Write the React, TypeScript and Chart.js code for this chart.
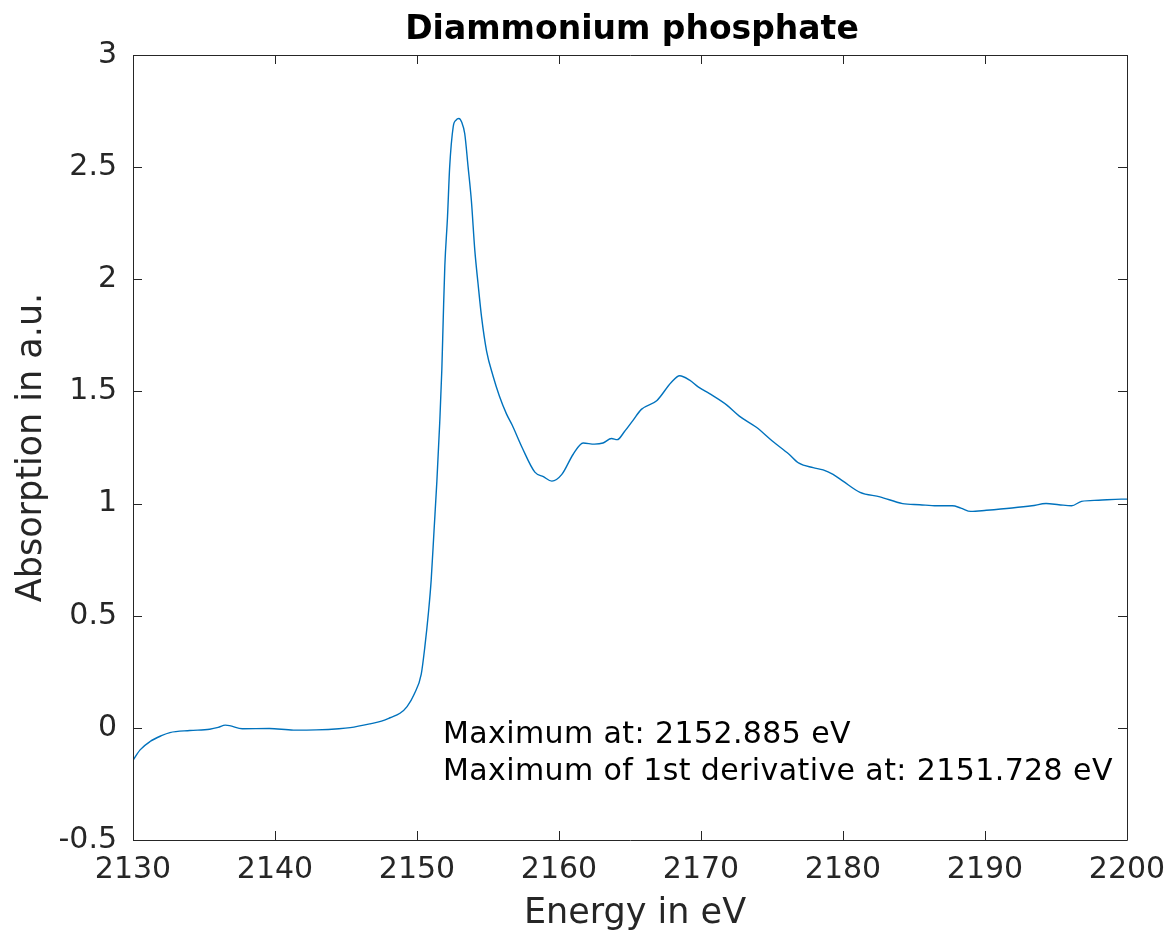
import React, { useEffect, useRef } from "react";
import { Chart, registerables } from "chart.js";

Chart.register(...registerables);

const energies: number[] = [
  2130.0, 2130.5, 2131.2, 2132.0, 2132.6, 2134.0, 2135.4, 2136.0, 2136.5, 2136.8,
  2137.7, 2139.6, 2141.3, 2142.9, 2144.5, 2145.3, 2146.7, 2147.5, 2148.1, 2148.8,
  2149.3, 2149.8, 2150.3, 2150.55, 2150.8, 2151.0, 2151.2, 2151.4, 2151.6, 2151.75,
  2151.85, 2151.96, 2152.15, 2152.3, 2152.55, 2152.75, 2152.95, 2153.15, 2153.36, 2153.6,
  2153.83, 2154.07, 2154.3, 2154.55, 2154.9, 2155.35, 2155.8, 2156.3, 2156.7, 2157.4,
  2158.3, 2158.9, 2159.5, 2160.2, 2161.0, 2161.7, 2162.5, 2163.1, 2163.7, 2164.1,
  2164.6, 2165.2, 2165.8, 2166.9, 2167.9, 2168.5, 2169.2, 2169.8, 2170.6, 2171.8,
  2172.7, 2173.9, 2175.0, 2176.2, 2176.9, 2177.9, 2178.6, 2179.3, 2180.0, 2181.2,
  2182.6, 2184.2, 2185.4, 2186.6, 2187.7, 2188.3, 2189.0, 2190.1, 2191.9, 2193.3,
  2194.3, 2195.2, 2196.1, 2196.8, 2198.0, 2199.6, 2200.0,
];

const absorption: number[] = [
  -0.145, -0.098, -0.061, -0.035, -0.021, -0.012, -0.006, 0.002, 0.012, 0.010,
  -0.004, -0.003, -0.010, -0.009, -0.004, 0.001, 0.018, 0.030, 0.045, 0.065,
  0.095, 0.15, 0.24, 0.36, 0.51, 0.66, 0.88, 1.10, 1.36, 1.60,
  1.83, 2.06, 2.28, 2.50, 2.68, 2.71, 2.717, 2.70, 2.65, 2.50,
  2.35, 2.13, 1.98, 1.83, 1.68, 1.57, 1.48, 1.40, 1.35, 1.25,
  1.14, 1.12, 1.10, 1.13, 1.22, 1.27, 1.265, 1.27, 1.29, 1.285,
  1.32, 1.37, 1.42, 1.46, 1.54, 1.57, 1.55, 1.52, 1.49, 1.44,
  1.39, 1.34, 1.28, 1.22, 1.18, 1.16, 1.15, 1.13, 1.10, 1.05,
  1.03, 1.00, 0.995, 0.99, 0.99, 0.98, 0.965, 0.97, 0.98, 0.99,
  1.00, 0.995, 0.99, 1.01, 1.015, 1.02, 1.02,
];

const xTicks: number[] = [2130, 2140, 2150, 2160, 2170, 2180, 2190, 2200];
const yTicks: number[] = [-0.5, 0, 0.5, 1, 1.5, 2, 2.5, 3];

const titleText = "Diammonium phosphate";
const xLabel = "Energy in eV";
const yLabel = "Absorption in a.u.";
const annotationLines: string[] = [
  "Maximum at: 2152.885 eV",
  "Maximum of 1st derivative at: 2151.728 eV",
];
const annotationX = 2151.83;
const annotationY: number[] = [-0.067, -0.232];

const FONT = "'DejaVu Sans', sans-serif";
const AXIS_COLOR = "#262626";

const framePlugin = {
  id: "matlabFrame",
  afterDraw(chart: any) {
    const { ctx, chartArea } = chart;
    const xs = chart.scales.x;
    const ys = chart.scales.y;
    const { left, right, top, bottom } = chartArea;
    ctx.save();
    ctx.strokeStyle = AXIS_COLOR;
    ctx.lineWidth = 1;
    ctx.beginPath();
    ctx.rect(Math.round(left) + 0.5, Math.round(top) + 0.5, Math.round(right - left), Math.round(bottom - top));
    ctx.stroke();
    const tl = 9;
    ctx.beginPath();
    for (const v of xTicks) {
      const px = Math.round(xs.getPixelForValue(v)) + 0.5;
      ctx.moveTo(px, bottom);
      ctx.lineTo(px, bottom - tl);
      ctx.moveTo(px, top);
      ctx.lineTo(px, top + tl);
    }
    for (const v of yTicks) {
      const py = Math.round(ys.getPixelForValue(v)) + 0.5;
      ctx.moveTo(left, py);
      ctx.lineTo(left + tl, py);
      ctx.moveTo(right, py);
      ctx.lineTo(right - tl, py);
    }
    ctx.stroke();

    // title
    const cx = (left + right) / 2;
    ctx.fillStyle = "#000";
    ctx.font = `bold 33px ${FONT}`;
    ctx.textAlign = "center";
    ctx.textBaseline = "alphabetic";
    ctx.fillText(titleText, cx + 2, 39);

    // x label
    ctx.fillStyle = AXIS_COLOR;
    ctx.font = `35px ${FONT}`;
    ctx.fillText(xLabel, cx + 5, 923);

    // y label
    ctx.save();
    ctx.translate(41, (top + bottom) / 2);
    ctx.rotate(-Math.PI / 2);
    ctx.textAlign = "center";
    ctx.fillText(yLabel, 0, 0);
    ctx.restore();

    // annotation
    ctx.fillStyle = "#000";
    ctx.font = `30px ${FONT}`;
    ctx.textAlign = "left";
    try {
      (ctx as any).letterSpacing = "0.4px";
    } catch (e) {}
    const ax = xs.getPixelForValue(annotationX);
    annotationLines.forEach((line, i) => {
      ctx.fillText(line, ax, ys.getPixelForValue(annotationY[i]));
    });
    try {
      (ctx as any).letterSpacing = "0px";
    } catch (e) {}
    ctx.restore();
  },
};

export default function App() {
  const canvasRef = useRef<HTMLCanvasElement | null>(null);

  useEffect(() => {
    if (!canvasRef.current) return;
    const data = energies.map((e, i) => ({ x: e, y: absorption[i] }));
    const chart = new Chart(canvasRef.current, {
      type: "line",
      data: {
        datasets: [
          {
            data,
            borderColor: "#0072BD",
            borderWidth: 1.4,
            pointRadius: 0,
            fill: false,
            cubicInterpolationMode: "monotone",
          },
        ],
      },
      options: {
        animation: false,
        responsive: false,
        layout: { padding: { top: 55, right: 41, left: 0, bottom: 0 } },
        plugins: {
          legend: { display: false },
          title: { display: false },
          tooltip: { enabled: false },
        },
        scales: {
          x: {
            type: "linear",
            min: 2130,
            max: 2200,
            afterFit: (s: any) => {
              s.height = 91;
              s.paddingLeft = 0;
              s.paddingRight = 0;
            },
            afterBuildTicks: (s: any) => {
              s.ticks = xTicks.map((v) => ({ value: v }));
            },
            grid: { display: false, drawTicks: false },
            border: { display: false },
            ticks: {
              padding: 12,
              color: AXIS_COLOR,
              font: { family: FONT, size: 30 },
              maxRotation: 0,
              autoSkip: false,
              callback: (v: any) => String(v),
            },
          },
          y: {
            type: "linear",
            min: -0.5,
            max: 3,
            afterFit: (s: any) => {
              s.width = 133;
              s.paddingTop = 0;
              s.paddingBottom = 0;
            },
            afterBuildTicks: (s: any) => {
              s.ticks = yTicks.map((v) => ({ value: v }));
            },
            grid: { display: false, drawTicks: false },
            border: { display: false },
            ticks: {
              padding: 16,
              color: AXIS_COLOR,
              font: { family: FONT, size: 30 },
              autoSkip: false,
              callback: (v: any) => String(v),
            },
          },
        },
      },
      plugins: [framePlugin],
    });
    return () => chart.destroy();
  }, []);

  return (
    <div style={{ position: "fixed", left: 0, top: 0, width: 1168, height: 931, background: "#fff" }}>
      <canvas ref={canvasRef} width={1168} height={931} style={{ display: "block" }} />
    </div>
  );
}
